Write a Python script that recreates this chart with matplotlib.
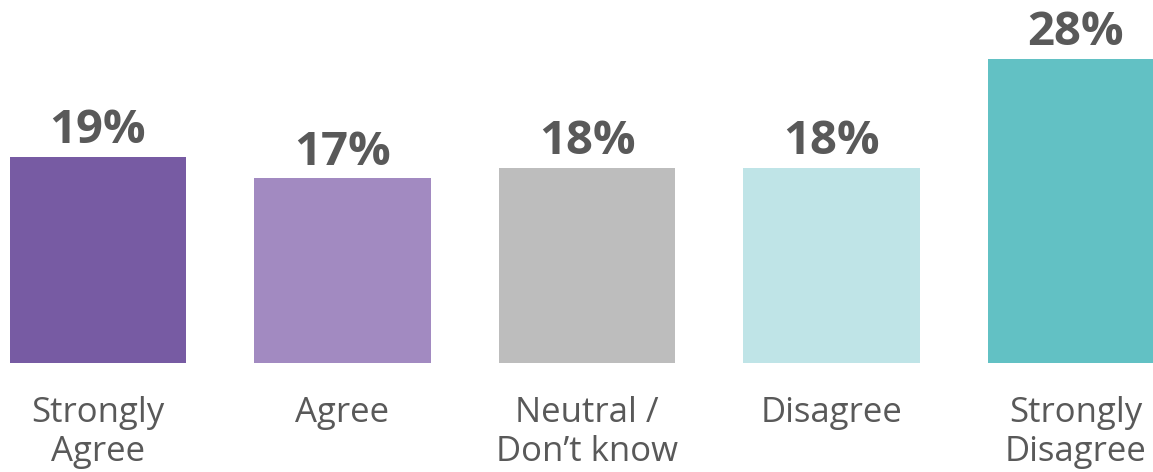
import matplotlib.pyplot as plt

categories = ["Strongly\nAgree", "Agree", "Neutral /\nDon\u2019t know", "Disagree", "Strongly\nDisagree"]
values = [19, 17, 18, 18, 28]
colors = ["#775BA3", "#A28AC1", "#BDBDBD", "#BFE4E7", "#62C1C4"]

plt.rcParams['font.family'] = ['Open Sans', 'DejaVu Sans']
text_color = "#595959"

fig = plt.figure(figsize=(11.53, 4.72), dpi=100)
ax = fig.add_axes([0, 109 / 472, 1, 363 / 472])

x = range(len(values))
ax.bar(x, values, width=0.72, color=colors)

for i, v in enumerate(values):
    ax.annotate(f"{v}%", (i, v), xytext=(0, 2), textcoords="offset points",
                ha="center", va="bottom", fontsize=34, fontweight="bold", color=text_color)
    ax.annotate(categories[i], (i, 0), xytext=(0, -24), textcoords="offset points",
                ha="center", va="top", fontsize=25, color=text_color,
                linespacing=1.18, annotation_clip=False)

ax.set_xlim(-98 / 244.5, (1153 - 98) / 244.5)
ax.set_ylim(0, 363 / 10.86)
ax.axis("off")

fig.savefig("out.png", dpi=100)
